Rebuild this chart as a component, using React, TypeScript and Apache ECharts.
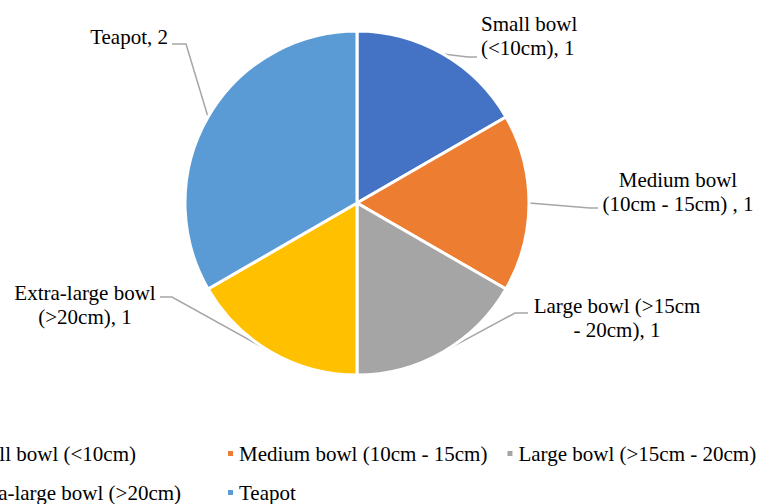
import React, { useEffect, useRef } from "react";
import * as echarts from "echarts";

const categories = [
  "Small bowl (<10cm)",
  "Medium bowl (10cm - 15cm)",
  "Large bowl (>15cm - 20cm)",
  "Extra-large bowl (>20cm)",
  "Teapot",
];
const values = [1, 1, 1, 1, 2];
const labelTexts = [
  "Small bowl\n(<10cm), 1",
  "Medium bowl\n(10cm - 15cm) , 1",
  "Large bowl (>15cm\n- 20cm), 1",
  "Extra-large bowl\n(>20cm), 1",
  "Teapot, 2",
];
const colors = ["#4472C4", "#ED7D31", "#A5A5A5", "#FFC000", "#5B9BD5"];

const FONT = "'Liberation Serif', 'Times New Roman', serif";

// label placement (styling)
const labelPos = [
  { x: 481, y: 36, align: "left", line: [[468, 57], [477, 57]] },
  { x: 678, y: 192, align: "center", line: [[590, 208], [598, 208]] },
  { x: 617, y: 318, align: "center", line: [[515, 313], [528, 313]] },
  { x: 85, y: 305, align: "center", line: [[172, 297], [160, 297]] },
  { x: 168, y: 37, align: "right", line: [[186, 44], [172, 44]] },
];

export default function App() {
  const ref = useRef<HTMLDivElement>(null);
  useEffect(() => {
    const chart = echarts.init(ref.current!, null, { renderer: "svg" });
    chart.setOption({
      animation: false,
      backgroundColor: "#fff",
      color: colors,
      legend: {
        left: -56,
        top: 438,
        width: 830,
        itemWidth: 7,
        itemHeight: 7,
        itemGap: 18,
        icon: "rect",
        textStyle: { fontSize: 21, fontFamily: FONT, color: "#000", lineHeight: 19 },
        data: categories.map((c, i) =>
          i === 0 || i === 3 ? { name: c, textStyle: { width: 246 } } : { name: c }
        ),
      },
      series: [
        {
          type: "pie",
          center: [357, 203],
          radius: 172,
          startAngle: 90,
          clockwise: true,
          itemStyle: { borderColor: "#fff", borderWidth: 3 },
          label: {
            show: true,
            position: "outside",
            fontSize: 21,
            fontFamily: FONT,
            color: "#000",
            lineHeight: 24,
            formatter: (p: any) => labelTexts[p.dataIndex],
          },
          labelLine: {
            show: true,
            lineStyle: { color: "#A6A6A6", width: 1.5 },
          },
          labelLayout: (params: any) => {
            const lp = labelPos[params.dataIndex];
            const p0 = params.labelLinePoints ? params.labelLinePoints[0] : null;
            const res: any = {
              x: lp.x,
              y: lp.y,
              align: lp.align,
              verticalAlign: "middle",
            };
            if (p0) res.labelLinePoints = [p0, lp.line[0], lp.line[1]];
            return res;
          },
          data: categories.map((c, i) => ({ name: c, value: values[i] })),
        },
      ],
    });
    return () => chart.dispose();
  }, []);
  return (
    <div
      ref={ref}
      style={{ position: "fixed", left: 0, top: 0, width: 758, height: 504 }}
    />
  );
}
